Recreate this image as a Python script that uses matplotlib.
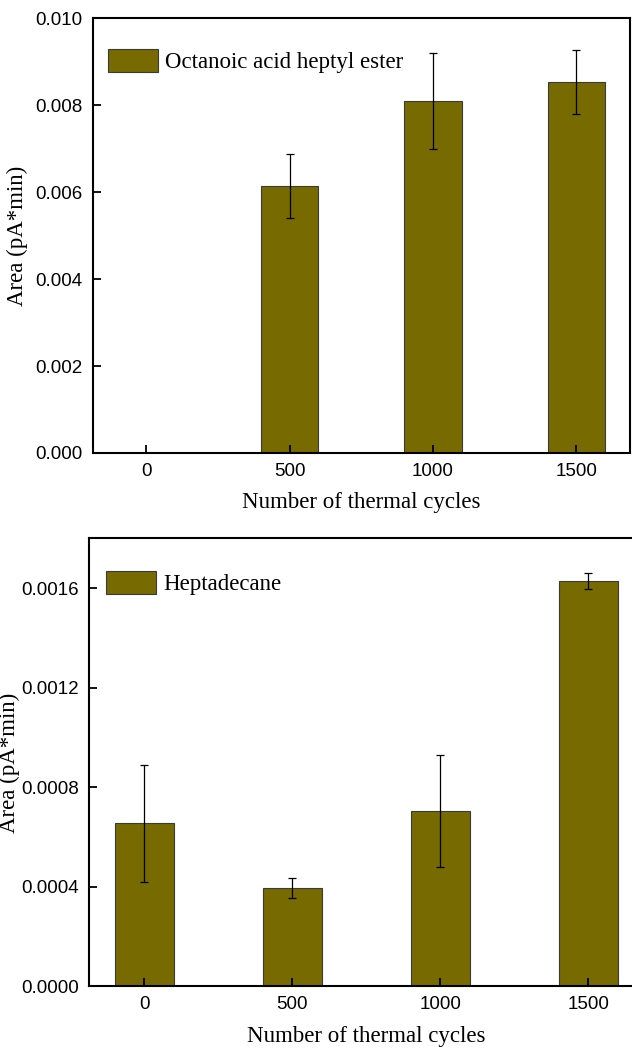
import matplotlib
matplotlib.use("Agg")
import matplotlib.pyplot as plt

# data
cycles = [0, 500, 1000, 1500]
ester_area = [0.0, 0.00614, 0.00809, 0.00854]
ester_err = [0.0, 0.00073, 0.00110, 0.00074]
hepta_area = [0.000655, 0.000395, 0.000705, 0.001629]
hepta_err = [0.000235, 0.000039, 0.000225, 0.000032]

bar_color = "#776a00"
serif = ["Liberation Serif", "DejaVu Serif"]
sans = ["Liberation Sans", "DejaVu Sans"]

plt.rcParams["font.family"] = sans

fig = plt.figure(figsize=(6.32, 10.5), dpi=100)
ax1 = fig.add_axes([0.1464, 0.5686, 0.8505, 0.414])
ax2 = fig.add_axes([0.1408, 0.0605, 0.878, 0.4267])


def draw_panel(ax, area, err, name, ylim, yticks, fmt, leg_xy, ylab_x):
    ax.bar(cycles, area, width=200, color=bar_color, edgecolor="#3a3a3a",
           linewidth=0.8, label=name, zorder=1)
    ax.errorbar(cycles, area, yerr=err, fmt="none", ecolor="black",
                elinewidth=0.9, capsize=3.2, capthick=0.9, zorder=2)
    ax.set_xlim(-187.5, 1687.5)
    ax.set_ylim(*ylim)
    ax.set_xticks(cycles)
    ax.set_yticks(yticks)
    ax.set_yticklabels([fmt.format(v) for v in yticks])
    ax.tick_params(direction="in", length=5.5, width=1.3, labelsize=13.5, pad=7)
    for sp in ax.spines.values():
        sp.set_linewidth(1.5)
    ax.set_xlabel("Number of thermal cycles", family=serif, fontsize=16.5, labelpad=9)
    ax.set_ylabel("Area (pA*min)", family=serif, fontsize=16.5, va="center")
    ax.yaxis.set_label_coords(ylab_x, 0.5)
    ax.legend(loc="upper left", bbox_to_anchor=leg_xy, frameon=False,
              prop={"family": serif, "size": 16.5}, handlelength=2.2,
              handleheight=1.2, handletextpad=0.3, borderpad=0,
              borderaxespad=0)


draw_panel(ax1, ester_area, ester_err, "Octanoic acid heptyl ester",
           (0, 0.010), [0, 0.002, 0.004, 0.006, 0.008, 0.010], "{:.3f}",
           (0.0288, 0.93), -0.14)
draw_panel(ax2, hepta_area, hepta_err, "Heptadecane",
           (0, 0.0018), [0, 0.0004, 0.0008, 0.0012, 0.0016], "{:.4f}",
           (0.0306, 0.928), -0.144)

fig.savefig("out.png", dpi=100)
